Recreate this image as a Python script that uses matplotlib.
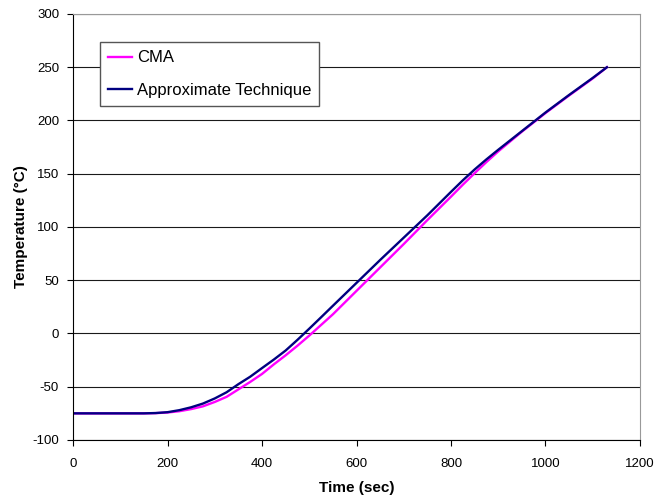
import numpy as np
import matplotlib
matplotlib.use("Agg")
import matplotlib.pyplot as plt

plt.rcParams['font.family'] = ['Liberation Sans', 'DejaVu Sans']
plt.rcParams['axes.unicode_minus'] = False

# time (sec) and temperature (degC) for the two methods
time_s = [0, 100, 150, 175, 200, 225, 250, 275, 300, 325, 350, 375, 400, 425,
          450, 475, 500, 525, 550, 600, 650, 700, 750, 800, 825, 850, 875, 900,
          950, 1000, 1050, 1100, 1130]
temp_cma = [-75, -75, -75, -74.8, -74.2, -73.0, -71.0, -68.4, -64.3, -59.5,
            -52.5, -45.5, -38, -29.0, -20.5, -11.5, -2.0, 8.0, 18, 40, 62, 84,
            106.5, 128.5, 139.7, 150.5, 161, 171, 189.5, 207, 223.5, 239.5, 250]
temp_approx = [-75, -75, -75, -74.7, -73.9, -72.0, -69.3, -65.8, -61.0, -55.2,
               -47.6, -40.6, -32.5, -24.5, -16.0, -6.0, 4.5, 15.2, 26, 47.5,
               69, 90, 111, 133, 143.8, 154, 163.5, 172.5, 190, 207.5, 224,
               240, 250]

fig = plt.figure(figsize=(6.56, 4.98), dpi=100)
ax = fig.add_axes([0.1113, 0.1165, 0.8643, 0.8554])

ax.plot(time_s, temp_cma, color='#FF00FF', lw=1.7, label='CMA')
ax.plot(time_s, temp_approx, color='#000080', lw=1.7, label='Approximate Technique')

ax.set_xlim(0, 1200)
ax.set_ylim(-100, 300)
ax.set_xticks(np.arange(0, 1201, 200))
ax.set_yticks(np.arange(-100, 301, 50))
ax.yaxis.grid(True, color='#1a1a1a', lw=0.8)
ax.set_axisbelow(True)

for side in ['top', 'right']:
    ax.spines[side].set_color('#999999')
for side in ['left', 'bottom']:
    ax.spines[side].set_color('black')
ax.tick_params(direction='out', length=4, width=0.8, labelsize=9.5, pad=6)
ax.tick_params(axis='x', pad=9)

ax.set_xlabel('Time (sec)', fontsize=11, fontweight='bold', labelpad=8)
ax.set_ylabel('Temperature (\u00b0C)', fontsize=11, fontweight='bold', labelpad=3)

leg = ax.legend(loc='upper left', bbox_to_anchor=(0.0476, 0.934), fontsize=12,
                frameon=True, fancybox=False, framealpha=1, edgecolor='#555555',
                handlelength=1.4, handletextpad=0.3, labelspacing=1.05,
                borderpad=0.5, borderaxespad=0)
leg.get_frame().set_linewidth(1.0)

fig.savefig('out.png', dpi=100)
